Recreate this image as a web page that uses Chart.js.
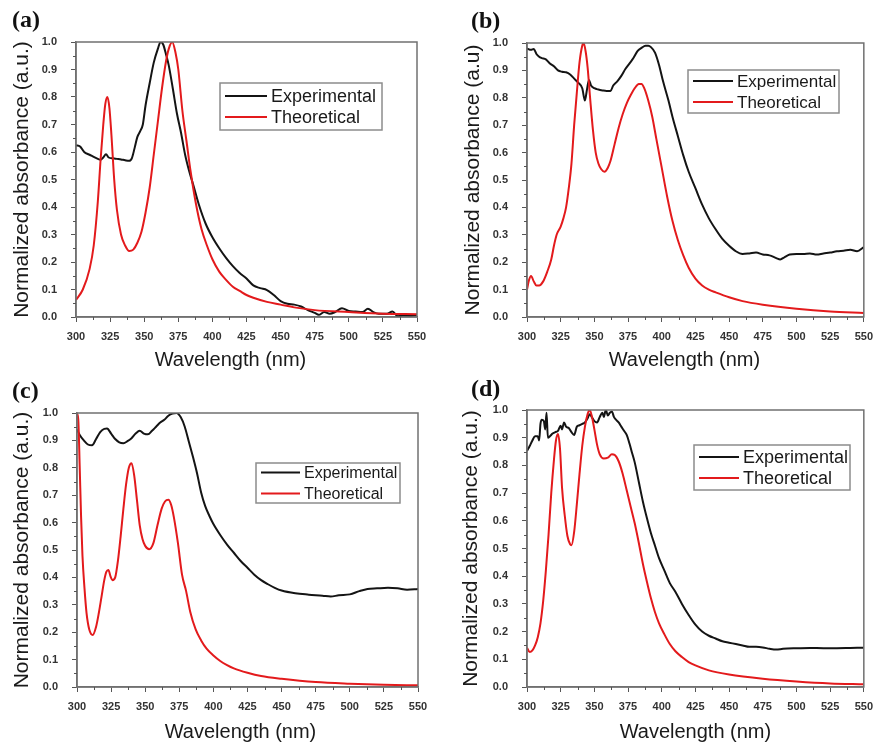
<!DOCTYPE html>
<html>
<head>
<meta charset="utf-8">
<script src="https://cdn.jsdelivr.net/npm/chart.js@4.4.1/dist/chart.umd.min.js"></script>
<style>
  body { margin: 0; background: #fff; }
  #page { position: relative; width: 881px; height: 744px; overflow: hidden; background: #fff; }
  .panel { position: absolute; }
  .tag { position: absolute; font: bold 24px "Liberation Serif", "Times New Roman", serif; line-height: 24px; color: #111; }
</style>
</head>
<body>
<div id="page">
  <div class="panel" style="left:0;top:0"><canvas id="ca" width="440" height="372"></canvas></div>
  <div class="panel" style="left:440px;top:0"><canvas id="cb" width="441" height="372"></canvas></div>
  <div class="panel" style="left:0;top:372px"><canvas id="cc" width="440" height="372"></canvas></div>
  <div class="panel" style="left:440px;top:372px"><canvas id="cd" width="441" height="372"></canvas></div>
  <div class="tag" style="left:12px;top:7px">(a)</div>
  <div class="tag" style="left:471px;top:8px">(b)</div>
  <div class="tag" style="left:12px;top:378px">(c)</div>
  <div class="tag" style="left:471px;top:376px">(d)</div>
</div>
<script>
const wavelengthTicks = [300, 325, 350, 375, 400, 425, 450, 475, 500, 525, 550];
const absorbanceTicks = [0, 0.1, 0.2, 0.3, 0.4, 0.5, 0.6, 0.7, 0.8, 0.9, 1.0];
const seriesNames = ['Experimental', 'Theoretical'];
const xTitle = 'Wavelength (nm)';

// (a) [wavelength nm, normalized absorbance]
const expA = [[300,0.625],[303,0.62],[306,0.60],[310,0.59],[313,0.582],[316,0.575],[318,0.572],[320,0.58],[322,0.592],[324,0.58],
  [327,0.577],[330,0.575],[333,0.573],[336,0.57],[339,0.568],[341,0.578],[343,0.615],[345,0.655],[347,0.675],[349,0.70],
  [351,0.77],[354,0.85],[357,0.925],[360,0.975],[362,1.0],[364,0.99],[366,0.955],[368,0.915],[371,0.83],[374,0.74],
  [377,0.67],[380,0.59],[383,0.53],[386,0.48],[390,0.41],[395,0.34],[400,0.29],[405,0.25],[410,0.215],[415,0.185],
  [420,0.16],[425,0.14],[430,0.115],[435,0.105],[440,0.098],[445,0.08],[450,0.058],[455,0.048],[460,0.045],[465,0.038],
  [470,0.025],[475,0.015],[478,0.008],[482,0.018],[486,0.012],[490,0.018],[495,0.032],[500,0.022],[505,0.02],[510,0.018],
  [514,0.03],[518,0.018],[522,0.012],[528,0.012],[532,0.02],[536,0.003],[540,0.006],[545,0.005],[550,0.008]];
const theoA = [[300,0.062],[305,0.10],[310,0.175],[313,0.26],[316,0.42],[318,0.57],[320,0.70],[321.5,0.775],[323,0.80],[324.5,0.76],
  [326,0.66],[328,0.50],[330,0.39],[333,0.30],[336,0.26],[339,0.24],[342,0.245],[345,0.27],[348,0.31],[351,0.38],
  [354,0.47],[357,0.59],[360,0.71],[363,0.83],[366,0.93],[368,0.975],[370.5,1.0],[373,0.96],[375,0.90],[378,0.75],
  [381,0.64],[384,0.53],[388,0.41],[392,0.32],[396,0.26],[400,0.21],[405,0.165],[410,0.135],[415,0.11],[420,0.095],
  [425,0.08],[430,0.07],[440,0.055],[450,0.045],[460,0.035],[475,0.025],[500,0.018],[525,0.012],[550,0.01]];

// (b)
const expB = [[300,0.98],[303,0.975],[305,0.978],[307,0.96],[309,0.95],[311,0.945],[314,0.94],[317,0.925],[320,0.915],[323,0.90],
  [326,0.895],[329,0.893],[332,0.885],[335,0.87],[338,0.855],[341,0.835],[343,0.79],[344.5,0.83],[346,0.865],[347.5,0.845],
  [350,0.835],[353,0.83],[356,0.827],[359,0.825],[362,0.825],[364,0.845],[367,0.86],[370,0.88],[373,0.905],[376,0.925],
  [379,0.945],[382,0.97],[385,0.982],[388,0.99],[390,0.99],[392,0.985],[395,0.965],[398,0.92],[401,0.86],[405,0.79],
  [408,0.73],[412,0.66],[416,0.59],[420,0.53],[425,0.47],[430,0.41],[435,0.36],[440,0.32],[445,0.285],[450,0.26],
  [455,0.24],[460,0.23],[465,0.232],[470,0.235],[475,0.228],[480,0.225],[485,0.215],[488,0.21],[491,0.218],[495,0.228],
  [500,0.23],[505,0.23],[510,0.232],[515,0.228],[520,0.232],[525,0.235],[530,0.24],[535,0.242],[540,0.245],[545,0.24],[550,0.255]];
const theoB = [[300,0.10],[301.5,0.135],[303,0.15],[305,0.13],[307,0.115],[309,0.115],[312,0.13],[315,0.165],[318,0.21],[320,0.26],
  [322,0.30],[325,0.33],[327,0.36],[329,0.40],[331,0.47],[333,0.56],[335,0.70],[337,0.82],[339,0.93],[341,0.99],
  [342,1.0],[343.5,0.97],[345,0.91],[347,0.79],[349,0.68],[351,0.60],[353,0.56],[355,0.54],[357.5,0.53],[360,0.545],
  [362,0.57],[365,0.63],[368,0.69],[371,0.74],[374,0.78],[377,0.81],[380,0.835],[383,0.85],[385,0.85],[387,0.835],
  [390,0.79],[393,0.73],[396,0.65],[400,0.545],[404,0.44],[408,0.35],[412,0.28],[416,0.225],[420,0.18],[425,0.14],
  [430,0.115],[435,0.10],[440,0.09],[450,0.072],[460,0.058],[475,0.045],[500,0.03],[525,0.02],[550,0.015]];

// (c)
const expC = [[300,0.94],[302,0.92],[305,0.90],[308,0.885],[311,0.882],[314,0.905],[317,0.93],[320,0.942],[322,0.943],[325,0.925],
  [328,0.905],[331,0.893],[334,0.89],[337,0.897],[340,0.908],[343,0.925],[346,0.935],[349,0.925],[352,0.922],[355,0.935],
  [358,0.95],[361,0.965],[364,0.975],[367,0.99],[370,0.998],[373,1.0],[376,0.985],[379,0.95],[382,0.895],[385,0.84],
  [388,0.78],[391,0.71],[394,0.66],[397,0.625],[400,0.595],[405,0.555],[410,0.52],[415,0.49],[420,0.46],[425,0.435],
  [430,0.41],[435,0.39],[440,0.375],[445,0.362],[450,0.352],[460,0.342],[470,0.337],[480,0.333],[486,0.33],[492,0.335],
  [500,0.338],[507,0.35],[513,0.358],[520,0.36],[528,0.362],[535,0.36],[542,0.355],[550,0.358]];
const theoC = [[300,1.0],[301,0.97],[302,0.80],[303,0.62],[304,0.48],[305.5,0.36],[307,0.27],[309,0.21],[311.5,0.19],[314,0.22],
  [316,0.27],[318,0.33],[320,0.39],[321.5,0.42],[323,0.427],[324.5,0.405],[326,0.39],[328,0.40],[330,0.46],[332,0.55],
  [334,0.65],[336,0.74],[338,0.80],[340,0.817],[342,0.77],[344,0.68],[346,0.59],[348,0.54],[350,0.515],[353,0.503],
  [356,0.525],[359,0.59],[362,0.65],[364.5,0.677],[367,0.683],[369,0.665],[371,0.62],[374,0.525],[377,0.41],[380,0.35],
  [383,0.275],[387,0.21],[391,0.17],[395,0.14],[400,0.115],[405,0.095],[410,0.08],[415,0.068],[425,0.052],[435,0.04],
  [450,0.03],[475,0.018],[500,0.012],[525,0.008],[550,0.006]];

// (d)
const expD = [[300,0.852],[302,0.87],[304,0.89],[306,0.905],[308,0.905],[309,0.89],[310,0.95],[311,0.965],[312.5,0.96],[313.5,0.93],
  [314.5,0.99],[315.5,0.90],[317,0.905],[319,0.915],[321,0.92],[323,0.925],[325,0.943],[326,0.93],[327.5,0.955],[329,0.94],
  [331,0.935],[333,0.92],[335,0.91],[337,0.94],[339,0.945],[341,0.95],[343,0.955],[345,0.97],[346.5,0.985],[348,0.975],
  [350,0.96],[352,0.955],[354,0.975],[356,0.99],[357,0.975],[358.5,1.0],[360,0.98],[361.5,0.99],[363,0.995],[364.5,0.975],
  [366,0.965],[368,0.955],[370,0.94],[372,0.925],[374,0.91],[376,0.88],[378,0.845],[380,0.81],[383,0.74],[386,0.67],
  [389,0.61],[392,0.555],[395,0.51],[398,0.465],[402,0.42],[406,0.375],[410,0.345],[415,0.30],[420,0.26],[425,0.225],
  [430,0.20],[435,0.185],[440,0.175],[445,0.165],[450,0.16],[455,0.155],[460,0.15],[465,0.145],[470,0.145],[475,0.143],
  [480,0.138],[485,0.135],[490,0.138],[500,0.14],[510,0.141],[520,0.14],[530,0.14],[540,0.141],[550,0.142]];
const theoD = [[300,0.142],[302,0.126],[304,0.132],[306,0.15],[308,0.18],[310,0.23],[312,0.31],[314,0.42],[316,0.55],[318,0.70],
  [320,0.82],[321.5,0.89],[323,0.913],[324.5,0.86],[326,0.72],[328,0.62],[330,0.545],[332,0.515],[333,0.512],[335,0.56],
  [337,0.66],[339,0.77],[341,0.87],[343,0.94],[345,0.985],[346.5,1.0],[348,0.98],[350,0.93],[352,0.875],[354,0.84],
  [357,0.825],[360,0.828],[363,0.84],[365,0.838],[368,0.815],[371,0.77],[374,0.71],[377,0.65],[380,0.59],[383,0.52],
  [386,0.445],[389,0.38],[392,0.32],[395,0.27],[398,0.23],[402,0.19],[406,0.155],[410,0.13],[415,0.108],[420,0.09],
  [425,0.078],[435,0.06],[450,0.045],[475,0.03],[500,0.02],[525,0.013],[550,0.01]];

const FONT = '"Liberation Sans", Arial, sans-serif';
const tickFont = { family: FONT, size: 11, weight: 'bold' };

// frame round the plot, minor ticks, x title and the boxed legend
const framePlugin = {
  id: 'frameBox',
  afterDraw(chart, args, opts) {
    const { ctx, chartArea: a, scales: { x, y } } = chart;
    ctx.save();
    ctx.strokeStyle = '#707070';
    ctx.lineWidth = 1.5;
    ctx.strokeRect(a.left, a.top, a.right - a.left, a.bottom - a.top);

    ctx.strokeStyle = '#555';
    ctx.lineWidth = 1;
    ctx.beginPath();
    for (let i = 0; i < wavelengthTicks.length - 1; i++) {
      const px = Math.round(x.getPixelForValue((wavelengthTicks[i] + wavelengthTicks[i + 1]) / 2)) + 0.5;
      ctx.moveTo(px, a.bottom);
      ctx.lineTo(px, a.bottom + 3);
    }
    for (let i = 0; i < absorbanceTicks.length - 1; i++) {
      const py = Math.round(y.getPixelForValue((absorbanceTicks[i] + absorbanceTicks[i + 1]) / 2)) + 0.5;
      ctx.moveTo(a.left, py);
      ctx.lineTo(a.left - 3, py);
    }
    ctx.stroke();

    // x axis title, the original sits a little left of centre
    ctx.fillStyle = '#1a1a1a';
    ctx.font = '20px ' + FONT;
    ctx.textAlign = 'center';
    ctx.textBaseline = 'middle';
    ctx.fillText(xTitle, (a.left + a.right) / 2 + opts.titleShift, chart.height - 12);

    const lg = opts.box;
    ctx.fillStyle = '#fff';
    ctx.fillRect(lg.x, lg.y, lg.w, lg.h);
    ctx.strokeStyle = '#8c8c8c';
    ctx.lineWidth = 1.5;
    ctx.strokeRect(lg.x, lg.y, lg.w, lg.h);
    ctx.font = lg.size + 'px ' + FONT;
    ctx.textAlign = 'left';
    chart.data.datasets.forEach((ds, i) => {
      const cy = lg.y + lg.h / 2 + (i === 0 ? -10.5 : 10.5);
      ctx.strokeStyle = ds.borderColor;
      ctx.lineWidth = 2;
      ctx.beginPath();
      ctx.moveTo(lg.x + 5, cy);
      ctx.lineTo(lg.x + 5 + lg.line, cy);
      ctx.stroke();
      ctx.fillStyle = '#1a1a1a';
      ctx.fillText(ds.label, lg.x + 9 + lg.line, cy + 1);
    });
    ctx.restore();
  }
};

const panels = [
  { id: 'ca', exp: expA, theo: theoA, yTitle: 'Normalized absorbance (a.u.)', area: { l: 76, r: 417, t: 42, b: 317 }, yPad: 10, titleShift: -16,
    legend: { x: 220, y: 83, w: 162, h: 47, line: 42, size: 18 } },
  { id: 'cb', exp: expB, theo: theoB, yTitle: 'Normalized absorbance (a.u)', area: { l: 87, r: 428, t: 43, b: 317 }, yPad: 21, titleShift: -11,
    legend: { x: 248, y: 70, w: 151, h: 43, line: 40, size: 17 } },
  { id: 'cc', exp: expC, theo: theoC, yTitle: 'Normalized absorbance (a.u.)', area: { l: 77, r: 418, t: 41, b: 315 }, yPad: 10, titleShift: -7,
    legend: { x: 256, y: 91, w: 144, h: 40, line: 39, size: 16 } },
  { id: 'cd', exp: expD, theo: theoD, yTitle: 'Normalized absorbance (a.u.)', area: { l: 87, r: 428, t: 38, b: 315 }, yPad: 19, titleShift: 0,
    legend: { x: 254, y: 73, w: 156, h: 45, line: 40, size: 18 } }
];

function makePanel(p) {
  const canvas = document.getElementById(p.id);
  const W = canvas.width, H = canvas.height;
  new Chart(canvas, {
    type: 'line',
    data: {
      datasets: [
        { label: seriesNames[0], data: p.exp.map(([x, y]) => ({ x, y })), borderColor: '#141414', order: 1 },
        { label: seriesNames[1], data: p.theo.map(([x, y]) => ({ x, y })), borderColor: '#e31a1c', order: 0 }
      ]
    },
    options: {
      responsive: false,
      animation: false,
      devicePixelRatio: 1,
      layout: { padding: { left: 0, top: p.area.t, right: W - p.area.r, bottom: 0 } },
      elements: {
        point: { radius: 0 },
        line: { borderWidth: 2, cubicInterpolationMode: 'monotone' }
      },
      plugins: {
        legend: { display: false },
        tooltip: { enabled: false },
        frameBox: { box: p.legend, titleShift: p.titleShift }
      },
      scales: {
        x: {
          type: 'linear',
          min: wavelengthTicks[0],
          max: wavelengthTicks[wavelengthTicks.length - 1],
          afterBuildTicks: s => { s.ticks = wavelengthTicks.map(v => ({ value: v })); },
          afterFit: s => { s.height = H - p.area.b; },
          grid: { drawOnChartArea: false, tickLength: 5, color: '#555' },
          border: { color: '#707070', width: 1.5 },
          ticks: { padding: 8, font: tickFont, color: '#333', maxRotation: 0, autoSkip: false }
        },
        y: {
          min: absorbanceTicks[0],
          max: absorbanceTicks[absorbanceTicks.length - 1],
          afterBuildTicks: s => { s.ticks = absorbanceTicks.map(v => ({ value: v })); },
          afterFit: s => { s.width = p.area.l; },
          grid: { drawOnChartArea: false, tickLength: 5, color: '#555' },
          border: { color: '#707070', width: 1.5 },
          ticks: { padding: 14, font: tickFont, color: '#333', callback: v => v.toFixed(1), autoSkip: false },
          title: { display: true, text: p.yTitle, font: { family: FONT, size: 21 }, color: '#1a1a1a', padding: { top: p.yPad, bottom: 0 } }
        }
      }
    },
    plugins: [framePlugin]
  });
}

panels.forEach(makePanel);
</script>
</body>
</html>
